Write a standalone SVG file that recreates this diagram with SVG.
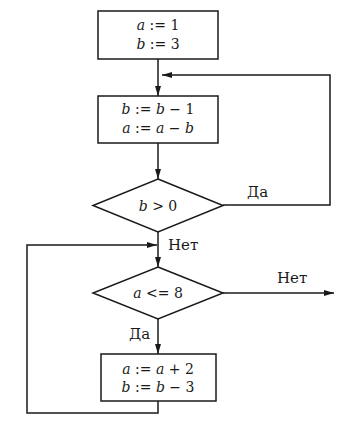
<svg xmlns="http://www.w3.org/2000/svg" width="341" height="422" viewBox="0 0 341 422">
<style>
.shape{fill:#fff;stroke:#1a1a1a;stroke-width:1.5}
.line{fill:none;stroke:#1a1a1a;stroke-width:1.5}
text{font-family:'DejaVu Serif','Liberation Serif',serif;fill:#1a1a1a}
.t{font-size:14px;text-anchor:middle}
.lbl{font-size:15px}
.v{font-style:italic}
</style>
<defs>
<marker id="arr" viewBox="0 0 10 6" refX="10" refY="3" markerWidth="10" markerHeight="6" markerUnits="userSpaceOnUse" orient="auto">
<path d="M0,0 L10,3 L0,6 Z" fill="#1a1a1a"/>
</marker>
</defs>
<rect width="341" height="422" fill="#fff"/>
<g id="connectors">
<line class="line" x1="158" y1="59" x2="158" y2="96" marker-end="url(#arr)"/>
<line class="line" x1="158" y1="143" x2="158" y2="179" marker-end="url(#arr)"/>
<polyline class="line" points="223,205 330,205 330,75 162,75" marker-end="url(#arr)"/>
<line class="line" x1="158" y1="232" x2="158" y2="267" marker-end="url(#arr)"/>
<line class="line" x1="223" y1="293" x2="334" y2="293" marker-end="url(#arr)"/>
<line class="line" x1="158" y1="319" x2="158" y2="354" marker-end="url(#arr)"/>
<polyline class="line" points="158,401 158,413 27,413 27,245 157,245" marker-end="url(#arr)"/>
<text class="lbl" x="247" y="197">Да</text>
<text class="lbl" x="168" y="250">Нет</text>
<text class="lbl" x="277" y="283">Нет</text>
<text class="lbl" x="129" y="339">Да</text>
</g>
<g id="init">
<rect class="shape" x="98" y="11" width="120" height="48"/>
<text class="t" x="158" y="30"><tspan class="v">a</tspan> := 1</text>
<text class="t" x="158" y="49"><tspan class="v">b</tspan> := 3</text>
</g>
<g id="update1">
<rect class="shape" x="98" y="96" width="120" height="47"/>
<text class="t" x="158" y="114"><tspan class="v">b</tspan> := <tspan class="v">b</tspan> − 1</text>
<text class="t" x="158" y="133"><tspan class="v">a</tspan> := <tspan class="v">a</tspan> − <tspan class="v">b</tspan></text>
</g>
<g id="cond1">
<polygon class="shape" points="158,179 223,205.5 158,232 93,205.5"/>
<text class="t" x="158" y="211"><tspan class="v">b</tspan> &gt; 0</text>
</g>
<g id="cond2">
<polygon class="shape" points="158,267 223,293 158,319 93,293"/>
<text class="t" x="158" y="298"><tspan class="v">a</tspan> &lt;= 8</text>
</g>
<g id="update2">
<rect class="shape" x="101" y="354" width="115" height="47"/>
<text class="t" x="158" y="374"><tspan class="v">a</tspan> := <tspan class="v">a</tspan> + 2</text>
<text class="t" x="158" y="392"><tspan class="v">b</tspan> := <tspan class="v">b</tspan> − 3</text>
</g>
</svg>
